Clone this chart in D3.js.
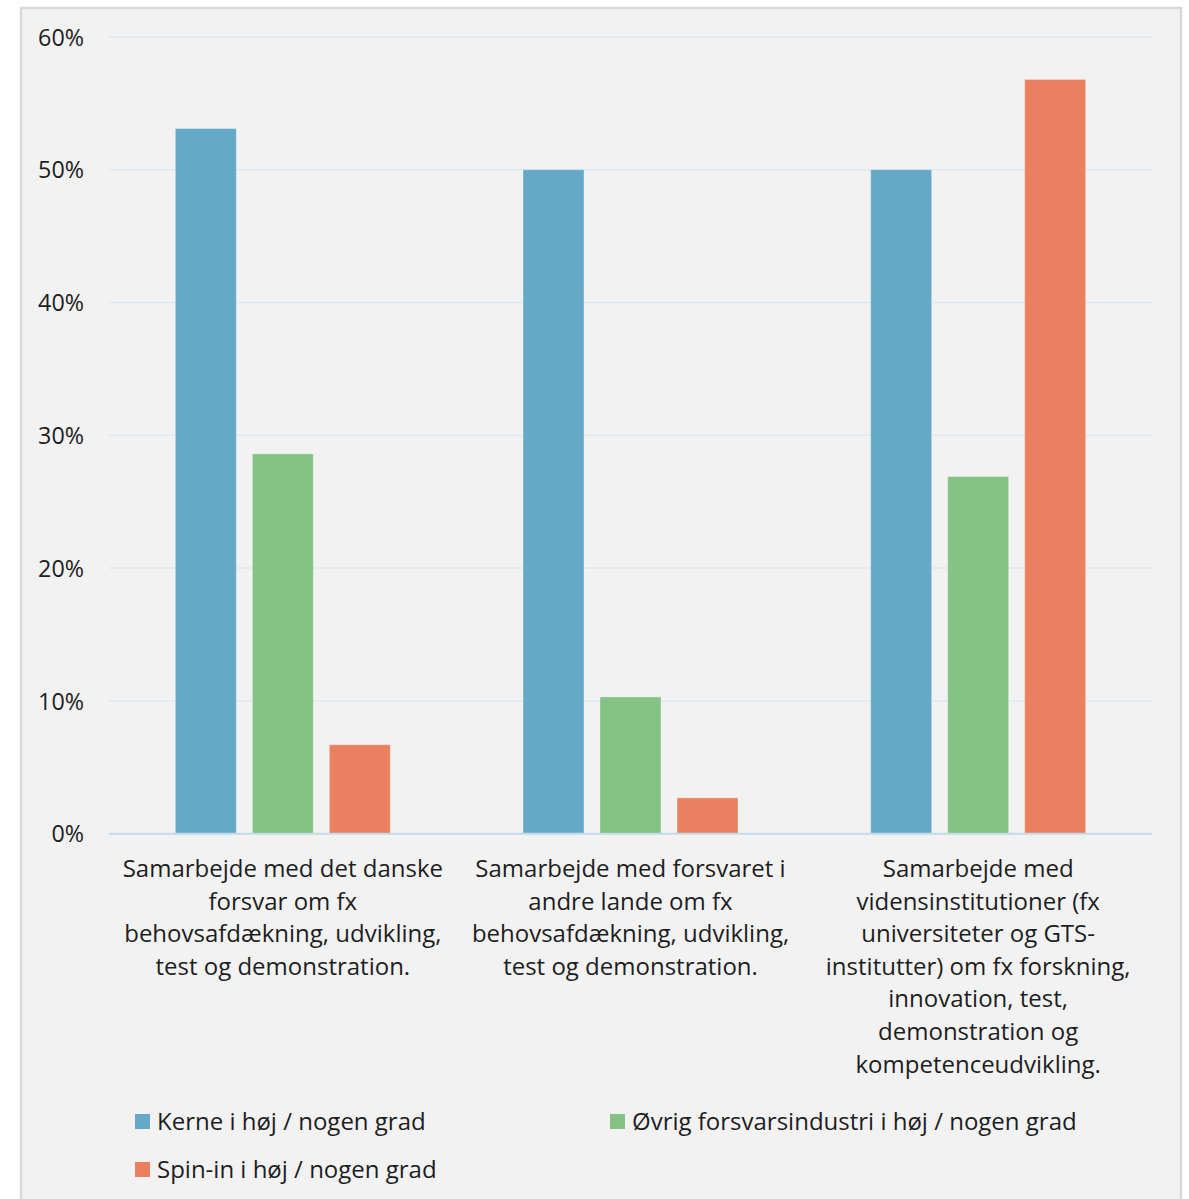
<!DOCTYPE html>
<html>
<head>
<meta charset="utf-8">
<script src="https://cdn.jsdelivr.net/npm/d3@7"></script>
<style>
  html, body { margin: 0; padding: 0; background: #ffffff; }
  svg { display: block; font-family: "Open Sans", sans-serif; }
</style>
</head>
<body>
<svg id="chart" width="1189" height="1199"></svg>
<script>
// ---- data ----
const categories = [
  ["Samarbejde med det danske", "forsvar om fx", "behovsafdækning, udvikling,", "test og demonstration."],
  ["Samarbejde med forsvaret i", "andre lande om fx", "behovsafdækning, udvikling,", "test og demonstration."],
  ["Samarbejde med", "vidensinstitutioner (fx", "universiteter og GTS-", "institutter) om fx forskning,", "innovation, test,", "demonstration og", "kompetenceudvikling."]
];
const seriesNames = ["Kerne i høj / nogen grad", "Øvrig forsvarsindustri i høj / nogen grad", "Spin-in i høj / nogen grad"];
const kerne = [53.1, 50.0, 50.0];
const oevrig = [28.6, 10.3, 26.9];
const spinin = [6.7, 2.7, 56.8];
const yTicks = [0, 10, 20, 30, 40, 50, 60];
const colors = ["#65a8c8", "#84c384", "#ea805f"];

const seriesValues = [kerne, oevrig, spinin];

const svg = d3.select("#chart");

// panel background + border
svg.append("rect")
  .attr("x", 21).attr("y", 8)
  .attr("width", 1160).attr("height", 1200)
  .attr("fill", "#f2f2f2")
  .attr("stroke", "#d9d9d9")
  .attr("stroke-width", 2.5);

const plotLeft = 109, plotRight = 1152, plotTop = 36.9, plotBottom = 833.7;

const x0 = d3.scaleBand()
  .domain(d3.range(categories.length))
  .range([plotLeft, plotRight])
  .paddingInner(0).paddingOuter(0);

const barW = 61, barStep = 77;
const x1 = d3.scaleBand()
  .domain(d3.range(seriesNames.length))
  .range([-barStep * 1.5, barStep * 1.5]);

const y = d3.scaleLinear().domain([0, 60]).range([plotBottom, plotTop]);

// gridlines
svg.append("g")
  .selectAll("line")
  .data(yTicks.filter(t => t > 0))
  .join("line")
  .attr("x1", plotLeft).attr("x2", plotRight)
  .attr("y1", d => y(d)).attr("y2", d => y(d))
  .attr("stroke", "#dde9f2")
  .attr("stroke-width", 1.5);

// y axis labels
const yAxis = d3.axisLeft(y).tickValues(yTicks).tickFormat(d => d + "%").tickSize(0).tickPadding(0);
const gy = svg.append("g").attr("transform", `translate(84,0)`).call(yAxis);
gy.select(".domain").remove();
gy.selectAll("text")
  .attr("font-size", 23.3)
  .attr("fill", "#1e1e1e")
  .attr("font-family", "'Open Sans', sans-serif")
  .attr("dy", "0.35em");

// bars
const groups = svg.append("g")
  .selectAll("g")
  .data(categories.map((c, i) => i))
  .join("g")
  .attr("transform", i => `translate(${x0(i) + x0.bandwidth() / 2},0)`);

groups.selectAll("rect")
  .data(i => seriesValues.map((s, k) => ({ k, v: s[i] })))
  .join("rect")
  .attr("x", d => x1(d.k) + (barStep - barW) / 2)
  .attr("width", barW)
  .attr("y", d => y(d.v))
  .attr("height", d => y(0) - y(d.v))
  .attr("fill", d => colors[d.k])
  .attr("stroke", "rgba(255,255,255,0.35)")
  .attr("stroke-width", 1);

// x axis line
svg.append("line")
  .attr("x1", plotLeft).attr("x2", plotRight)
  .attr("y1", y(0)).attr("y2", y(0))
  .attr("stroke", "#c2dbe9")
  .attr("stroke-width", 2);

// category labels
const labelG = svg.append("g");
categories.forEach((lines, i) => {
  const t = labelG.append("text")
    .attr("x", x0(i) + x0.bandwidth() / 2)
    .attr("y", 877)
    .attr("text-anchor", "middle")
    .attr("font-size", 24)
    .attr("fill", "#1e1e1e");
  lines.forEach((ln, j) => {
    t.append("tspan")
      .attr("x", x0(i) + x0.bandwidth() / 2)
      .attr("y", 877 + j * 32.6)
      .text(ln);
  });
});

// legend
const legendPos = [[135, 1114], [610, 1114], [135, 1162]];
const lg = svg.append("g")
  .selectAll("g")
  .data(seriesNames.map((n, k) => ({ n, k })))
  .join("g")
  .attr("transform", d => `translate(${legendPos[d.k][0]},${legendPos[d.k][1]})`);
lg.append("rect")
  .attr("width", 15).attr("height", 15)
  .attr("fill", d => colors[d.k]);
lg.append("text")
  .attr("x", 22).attr("y", 15.5)
  .attr("font-size", 24)
  .attr("fill", "#1e1e1e")
  .text(d => d.n);
</script>
</body>
</html>
